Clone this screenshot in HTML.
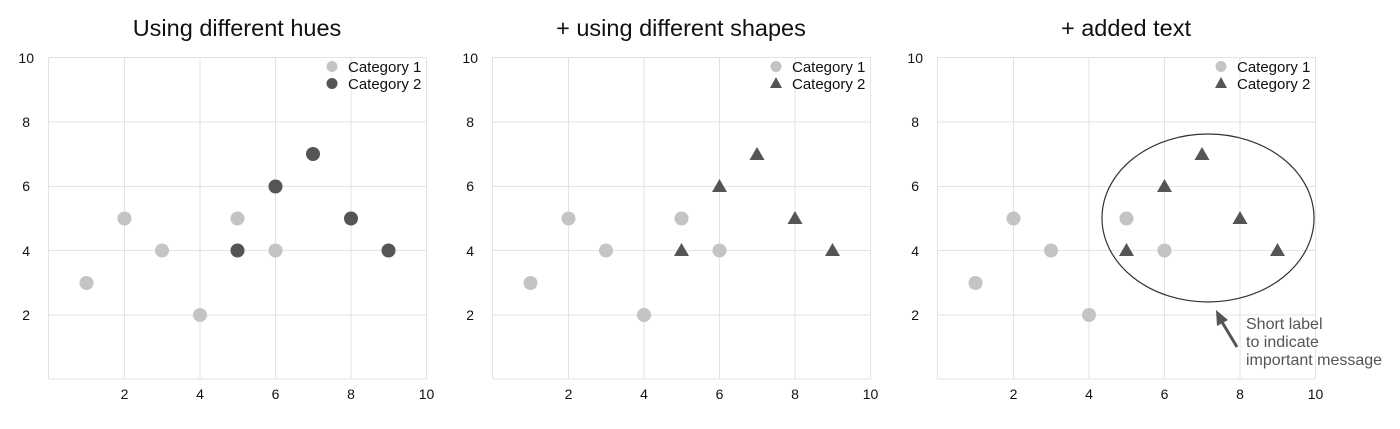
<!DOCTYPE html>
<html><head><meta charset="utf-8"><style>
body{margin:0;background:#fff}
svg{display:block;font-family:"Liberation Sans",sans-serif}
</style></head><body>
<svg width="1400" height="429" viewBox="0 0 1400 429">
<defs>
<g id="axes">
  <g stroke="#e3e3e3" stroke-width="1">
    <line x1="48.5" y1="57.5" x2="48.5" y2="379"/>
    <line x1="124.5" y1="57.5" x2="124.5" y2="379"/>
    <line x1="200" y1="57.5" x2="200" y2="379"/>
    <line x1="275.5" y1="57.5" x2="275.5" y2="379"/>
    <line x1="351" y1="57.5" x2="351" y2="379"/>
    <line x1="426.5" y1="57.5" x2="426.5" y2="379"/>
    <line x1="48.5" y1="57.5" x2="426.5" y2="57.5"/>
    <line x1="48.5" y1="122" x2="426.5" y2="122"/>
    <line x1="48.5" y1="186.5" x2="426.5" y2="186.5"/>
    <line x1="48.5" y1="250.5" x2="426.5" y2="250.5"/>
    <line x1="48.5" y1="315" x2="426.5" y2="315"/>
    <line x1="48.5" y1="379" x2="426.5" y2="379"/>
  </g>
  <g font-size="14" fill="#111" text-anchor="end">
    <text x="34" y="63">10</text><text x="30" y="127">8</text><text x="30" y="191">6</text>
    <text x="30" y="256">4</text><text x="30" y="320">2</text>
  </g>
  <g font-size="14" fill="#111" text-anchor="middle">
    <text x="124.5" y="399">2</text><text x="200" y="399">4</text><text x="275.5" y="399">6</text>
    <text x="351" y="399">8</text><text x="426.5" y="399">10</text>
  </g>
  <g fill="#c4c4c4">
    <circle cx="86.5" cy="283" r="7"/><circle cx="124.5" cy="218.5" r="7"/>
    <circle cx="162" cy="250.5" r="7"/><circle cx="200" cy="315" r="7"/>
    <circle cx="237.5" cy="218.5" r="7"/><circle cx="275.5" cy="250.5" r="7"/>
    <circle cx="332" cy="66.5" r="5.5"/>
  </g>
  <g font-size="15" fill="#111">
    <text x="348" y="72">Category 1</text><text x="348" y="89">Category 2</text>
  </g>
</g>
<g id="tris" fill="#555">
  <polygon points="237.5,243 245,256 230,256"/>
  <polygon points="275.5,179 283,192 268,192"/>
  <polygon points="313,147 320.5,160 305.5,160"/>
  <polygon points="351,211 358.5,224 343.5,224"/>
  <polygon points="388.5,243 396,256 381,256"/>
  <polygon points="332,77 338,88 326,88"/>
</g>
</defs>

<text x="237" y="36" font-size="23.5" text-anchor="middle" fill="#111">Using different hues</text>
<use href="#axes"/>
<g fill="#555">
  <circle cx="237.5" cy="250.5" r="7"/><circle cx="275.5" cy="186.5" r="7"/>
  <circle cx="313" cy="154" r="7"/><circle cx="351" cy="218.5" r="7"/>
  <circle cx="388.5" cy="250.5" r="7"/><circle cx="332" cy="83.5" r="5.5"/>
</g>

<g transform="translate(444,0)">
  <text x="237" y="36" font-size="23.5" text-anchor="middle" fill="#111">+ using different shapes</text>
  <use href="#axes"/><use href="#tris"/>
</g>

<g transform="translate(889,0)">
  <text x="237" y="36" font-size="23.5" text-anchor="middle" fill="#111">+ added text</text>
  <use href="#axes"/><use href="#tris"/>
  <ellipse cx="319" cy="218" rx="106" ry="84" fill="none" stroke="#333" stroke-width="1.2"/>
  <line x1="348" y1="347" x2="333" y2="322" stroke="#555" stroke-width="3"/>
  <polygon points="327,310 339,320 328,326" fill="#555"/>
  <g font-size="16" fill="#555">
    <text x="357" y="329">Short label</text>
    <text x="357" y="347">to indicate</text>
    <text x="357" y="365">important message</text>
  </g>
</g>
</svg>
</body></html>
